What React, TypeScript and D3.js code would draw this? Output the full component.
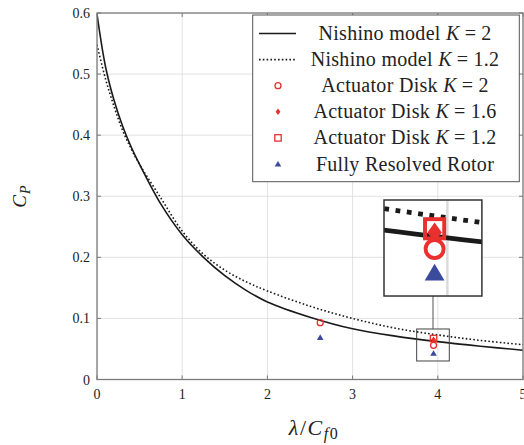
import React from 'react';
import * as d3 from 'd3';

// model curves
const lambda = [0, 0.1, 0.2, 0.3, 0.4, 0.5, 0.75, 1, 1.25, 1.5, 1.75, 2, 2.5, 3, 3.5, 4, 4.5, 5];
const cpK2 = [0.598, 0.512, 0.457, 0.415, 0.381, 0.352, 0.287, 0.237, 0.2, 0.17, 0.146, 0.127, 0.102, 0.083, 0.071, 0.062, 0.0545, 0.048];
const cpK12 = [0.548, 0.492, 0.447, 0.408, 0.378, 0.352, 0.297, 0.243, 0.205, 0.179, 0.16, 0.145, 0.12, 0.1, 0.084, 0.073, 0.064, 0.057];

// simulation points
const adK2 = [[2.62, 0.093], [3.95, 0.056]];
const adK16 = [[3.95, 0.065]];
const adK12 = [[3.95, 0.067]];
const frr = [[2.62, 0.069], [3.95, 0.043]];

const xTicks = [0, 1, 2, 3, 4, 5];
const yTicks = [0, 0.1, 0.2, 0.3, 0.4, 0.5, 0.6];
const zoomX = [3.752, 4.135];
const zoomY = [0.0303, 0.0827];

const RED = '#e8302f';
const BLUE = '#3a4a9c';
const AXIS = '#7a7a7a';
const GRID = '#dadada';
const FONT = '"Liberation Serif", "DejaVu Serif", serif';

const x = d3.scaleLinear().domain([0, 5]).range([97, 523]);
const y = d3.scaleLinear().domain([0, 0.6]).range([379.5, 13]);

const line = d3.line<number>()
    .x((_, i) => x(lambda[i]))
    .y(d => y(d))
    .curve(d3.curveCatmullRom.alpha(0.5));

const Circle = ({ cx, cy }) => <circle cx={cx} cy={cy} r={3} fill="none" stroke={RED} strokeWidth={1.3} />;
const Diamond = ({ cx, cy }) => <path d={`M${cx},${cy - 3.3}L${cx + 2.4},${cy}L${cx},${cy + 3.3}L${cx - 2.4},${cy}Z`} fill={RED} />;
const Square = ({ cx, cy }) => <rect x={cx - 3.2} y={cy - 3.2} width={6.4} height={6.4} fill="none" stroke={RED} strokeWidth={1.3} />;
const Triangle = ({ cx, cy }) => <path d={`M${cx},${cy - 3}L${cx + 3.3},${cy + 2.6}L${cx - 3.3},${cy + 2.6}Z`} fill={BLUE} />;

const PlotContent = () => (
    <g>
        {xTicks.map(t => <line key={'gx' + t} x1={x(t)} x2={x(t)} y1={y(0)} y2={y(0.6)} stroke={GRID} strokeWidth={0.8} />)}
        {yTicks.map(t => <line key={'gy' + t} x1={x(0)} x2={x(5)} y1={y(t)} y2={y(t)} stroke={GRID} strokeWidth={0.8} />)}
        <path d={line(cpK12)} fill="none" stroke="#1a1a1a" strokeWidth={1.6} strokeDasharray="1.6 2.2" />
        <path d={line(cpK2)} fill="none" stroke="#1a1a1a" strokeWidth={1.6} />
        {adK12.map((d, i) => <Square key={'s' + i} cx={x(d[0])} cy={y(d[1])} />)}
        {adK16.map((d, i) => <Diamond key={'d' + i} cx={x(d[0])} cy={y(d[1])} />)}
        {adK2.map((d, i) => <Circle key={'c' + i} cx={x(d[0])} cy={y(d[1])} />)}
        {frr.map((d, i) => <Triangle key={'t' + i} cx={x(d[0])} cy={y(d[1])} />)}
    </g>
);

const legendItems = [
    { pre: 'Nishino model ', val: '2', kind: 'solid' },
    { pre: 'Nishino model ', val: '1.2', kind: 'dotted' },
    { pre: 'Actuator Disk ', val: '2', kind: 'circle' },
    { pre: 'Actuator Disk ', val: '1.6', kind: 'diamond' },
    { pre: 'Actuator Disk ', val: '1.2', kind: 'square' },
    { pre: 'Fully Resolved Rotor', val: '', kind: 'triangle' },
];

const LegendMark = ({ kind, cy }) => {
    const cx = 278;
    if (kind === 'solid') return <line x1={259} x2={296} y1={cy} y2={cy} stroke="#1a1a1a" strokeWidth={1.6} />;
    if (kind === 'dotted') return <line x1={259} x2={296} y1={cy} y2={cy} stroke="#1a1a1a" strokeWidth={1.6} strokeDasharray="1.6 2.2" />;
    if (kind === 'circle') return <Circle cx={cx} cy={cy} />;
    if (kind === 'diamond') return <Diamond cx={cx} cy={cy} />;
    if (kind === 'square') return <Square cx={cx} cy={cy} />;
    return <Triangle cx={cx} cy={cy} />;
};

const App = () => {
    const bx0 = x(zoomX[0]), bx1 = x(zoomX[1]);
    const by0 = y(zoomY[1]), by1 = y(zoomY[0]);
    const k = 3;
    const ix = 384, iy = 200;
    const iw = (bx1 - bx0) * k, ih = (by1 - by0) * k;
    const cx = (bx0 + bx1) / 2;

    return (
        <svg width={524} height={445} style={{ position: 'absolute', left: 0, top: 0 }} fontFamily={FONT}>
            <rect width={524} height={445} fill="white" />
            <defs>
                <clipPath id="plotClip"><rect x={x(0)} y={y(0.6)} width={x(5) - x(0)} height={y(0) - y(0.6)} /></clipPath>
                <clipPath id="insetClip"><rect x={ix} y={iy} width={iw} height={ih} /></clipPath>
            </defs>

            <g clipPath="url(#plotClip)"><PlotContent /></g>

            {/* frame and ticks */}
            <rect x={x(0)} y={y(0.6)} width={x(5) - x(0)} height={y(0) - y(0.6)} fill="none" stroke={AXIS} strokeWidth={1.3} />
            {xTicks.map(t => (
                <g key={'xt' + t}>
                    <line x1={x(t)} x2={x(t)} y1={y(0)} y2={y(0) - 4} stroke={AXIS} strokeWidth={1} />
                    <line x1={x(t)} x2={x(t)} y1={y(0.6)} y2={y(0.6) + 4} stroke={AXIS} strokeWidth={1} />
                    <text x={x(t)} y={398.5} textAnchor="middle" fontSize={14} fill="#222">{t}</text>
                </g>
            ))}
            {yTicks.map(t => (
                <g key={'yt' + t}>
                    <line x1={x(0)} x2={x(0) + 4} y1={y(t)} y2={y(t)} stroke={AXIS} strokeWidth={1} />
                    <line x1={x(5)} x2={x(5) - 4} y1={y(t)} y2={y(t)} stroke={AXIS} strokeWidth={1} />
                    <text x={90} y={y(t) + 5} textAnchor="end" fontSize={14} fill="#222">{t === 0 ? '0' : d3.format('.1f')(t)}</text>
                </g>
            ))}

            {/* axis titles */}
            <text transform="translate(26,196) rotate(-90)" textAnchor="middle" fontSize={19} fill="#222" letterSpacing={1}>
                <tspan fontStyle="italic">C</tspan><tspan fontStyle="italic" fontSize={14} dy={4}>P</tspan>
            </text>
            <text x={314} y={435} textAnchor="middle" fontSize={22} fill="#222" letterSpacing={1.5}>
                <tspan fontStyle="italic">λ</tspan>/<tspan fontStyle="italic">C</tspan><tspan fontStyle="italic" fontSize={16} dy={4}>f</tspan><tspan fontSize={16}>0</tspan>
            </text>

            {/* legend */}
            <rect x={252.7} y={15} width={266.6} height={166.7} fill="white" stroke="#555" strokeWidth={1} />
            {legendItems.map((d, i) => {
                const cy = 33.5 + i * 26.1;
                return (
                    <g key={'lg' + i}>
                        <LegendMark kind={d.kind} cy={cy} />
                        <text x={405} y={cy + 6.5} textAnchor="middle" fontSize={20} fill="#222" letterSpacing={0.3}>
                            {d.pre}
                            {d.val && <tspan fontStyle="italic">K</tspan>}
                            {d.val && <tspan dx={5}>=</tspan>}
                            {d.val && <tspan dx={5}>{d.val}</tspan>}
                        </text>
                    </g>
                );
            })}

            {/* zoom box, connector and inset */}
            <rect x={bx0} y={by0} width={bx1 - bx0} height={by1 - by0} fill="none" stroke="#444" strokeWidth={1} />
            <line x1={cx} x2={cx} y1={iy + ih} y2={by0} stroke="#555" strokeWidth={1} />
            <g clipPath="url(#insetClip)">
                <rect x={ix} y={iy} width={iw} height={ih} fill="white" />
                <g transform={`translate(${ix},${iy}) scale(${k}) translate(${-bx0},${-by0})`}>
                    <PlotContent />
                </g>
            </g>
            <rect x={ix} y={iy} width={iw} height={ih} fill="none" stroke="#333" strokeWidth={1.5} />
        </svg>
    );
};

export default App;
